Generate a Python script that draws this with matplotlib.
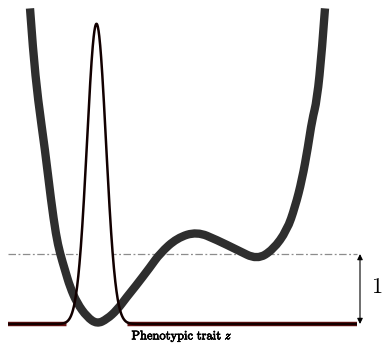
import numpy as np
import matplotlib
matplotlib.use("Agg")
import matplotlib.pyplot as plt
import matplotlib.patheffects as pe
from matplotlib.path import Path
from matplotlib.patches import PathPatch

plt.rcParams['mathtext.fontset'] = 'cm'

# fitness landscape W(z)
trait_z = [-1.34, -1.28, -1.18, -1.04, -0.92, -0.82, -0.74, -0.64, -0.54, -0.40,
           -0.20, 0.00, 0.20, 0.40, 0.60, 0.76, 1.06, 1.26, 1.60, 2.00,
           2.40, 2.80, 3.20, 3.52, 3.80, 3.96, 4.10, 4.22, 4.30, 4.40,
           4.50, 4.56]
fitness_w = [4.51, 3.91, 3.20, 2.49, 1.77, 1.27, 1.01, 0.77, 0.53, 0.30,
             0.10, 0.00, 0.07, 0.20, 0.39, 0.53, 0.81, 1.01, 1.23, 1.32,
             1.20, 1.06, 0.92, 1.06, 1.34, 1.67, 2.06, 2.53, 2.91, 3.20,
             3.91, 4.51]

# phenotype distribution
pop_mean = -0.01
pop_sd = 0.19
pop_peak = 4.29

z_range = (-1.78, 5.20)
ref_level = 1.0

fig = plt.figure(figsize=(3.82, 3.45), dpi=100)
ax = fig.add_axes([0, 0, 1, 1])
ax.set_xlim(-1.94, 5.70)
ax.set_ylim(-0.30, 4.63)
ax.axis('off')

# baseline
ax.plot(z_range, [0, 0], color='#6a1414', lw=3.2, solid_capstyle='butt', zorder=1)

# dash-dot reference line
ax.plot(z_range, [ref_level, ref_level], color='#8c8c8c', lw=0.9,
        linestyle=(0, (6, 2, 1.5, 2)), zorder=1)

# population density
zz = np.linspace(z_range[0], z_range[1], 1500)
dens = pop_peak * np.exp(-0.5 * ((zz - pop_mean) / pop_sd) ** 2)
ax.fill_between(zz, -0.03, dens, where=dens > 0.03, color='white', zorder=2)
ax.plot(zz, dens, color='#120000', lw=1.8, zorder=4, solid_capstyle='butt')

# fitness landscape, smooth quadratic-bezier path through the read points
pts = list(zip(trait_z, fitness_w))
verts = [pts[0]]
codes = [Path.MOVETO]
for i in range(1, len(pts) - 1):
    mid = ((pts[i][0] + pts[i + 1][0]) / 2, (pts[i][1] + pts[i + 1][1]) / 2)
    if i == len(pts) - 2:
        mid = pts[-1]
    verts += [pts[i], mid]
    codes += [Path.CURVE3, Path.CURVE3]
ax.add_patch(PathPatch(Path(verts, codes), facecolor='none', edgecolor='#2e2e2e',
                       lw=6.0, capstyle='butt', joinstyle='round', zorder=3))

# arrow for unit height
ax.annotate('', xy=(5.26, 0.0), xytext=(5.26, ref_level),
            arrowprops=dict(arrowstyle='<|-|>', color='black', lw=0.8,
                            mutation_scale=8, shrinkA=0, shrinkB=0))
ax.text(5.59, 0.53, r'$1$', fontsize=16, ha='center', va='center')

ax.text(1.7, -0.17, r'$\mathrm{Phenotypic\ trait}\ z$', fontsize=9,
        ha='center', va='center',
        path_effects=[pe.withStroke(linewidth=0.5, foreground='black')])

fig.savefig('out.png', dpi=100)
